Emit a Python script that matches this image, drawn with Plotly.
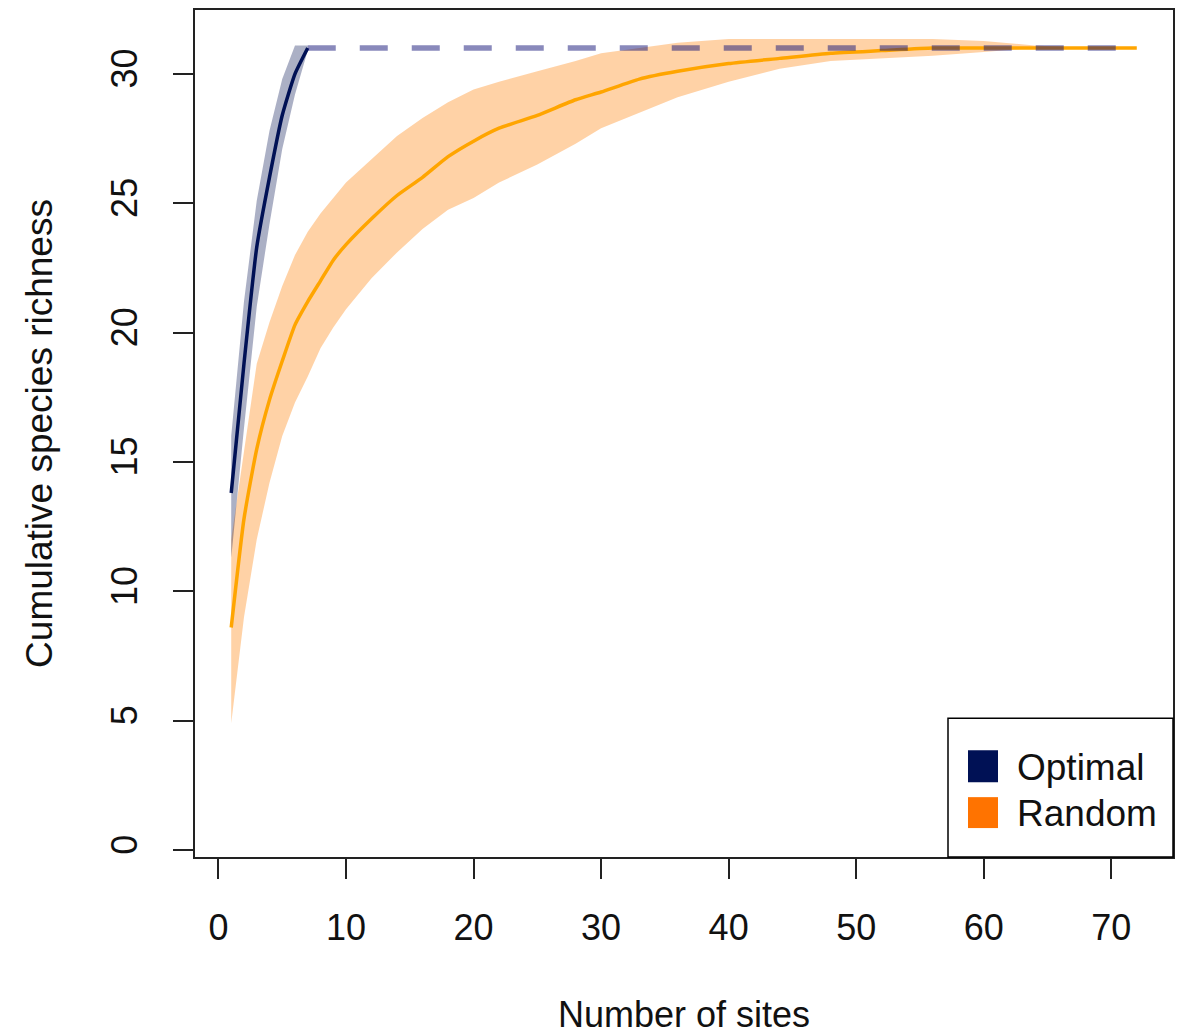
import plotly.graph_objects as go

# ---- data ----
opt_x = [1, 2, 3, 4, 5, 6, 7]
opt_mean = [13.8, 18.8, 23.3, 26.0, 28.4, 30.0, 31.0]
opt_upper = [16.0, 21.2, 25.1, 27.8, 29.8, 31.1, 31.1]
opt_lower = [11.3, 16.3, 21.0, 24.2, 27.1, 29.2, 30.9]

plateau_x = [7, 72]
plateau_y = [31.0, 31.0]

rand_x = [1, 2, 3, 4, 5, 6, 7, 8, 9, 10, 12, 14, 16, 18, 20, 22, 25, 28, 30,
          33, 36, 40, 44, 48, 52, 56, 60, 64, 68, 72]
rand_mean = [8.6, 12.8, 15.5, 17.4, 18.9, 20.3, 21.2, 22.0, 22.8, 23.4, 24.4,
             25.3, 26.0, 26.8, 27.4, 27.9, 28.4, 29.0, 29.3, 29.8, 30.1, 30.4,
             30.6, 30.8, 30.9, 31.0, 31.0, 31.0, 31.0, 31.0]
rand_upper = [12.0, 15.5, 18.8, 20.4, 21.8, 23.0, 23.9, 24.6, 25.2, 25.8, 26.7,
              27.6, 28.3, 28.9, 29.4, 29.7, 30.1, 30.5, 30.8, 31.0, 31.2, 31.35,
              31.35, 31.35, 31.35, 31.35, 31.27, 31.1, 31.0, 31.0]
rand_lower = [4.9, 9.0, 12.0, 14.2, 16.0, 17.3, 18.3, 19.4, 20.2, 20.9, 22.1,
              23.1, 24.0, 24.75, 25.2, 25.8, 26.5, 27.3, 27.9, 28.5, 29.1, 29.7,
              30.2, 30.5, 30.6, 30.7, 30.85, 31.0, 31.0, 31.0]

x_ticks = [0, 10, 20, 30, 40, 50, 60, 70]
y_ticks = [0, 5, 10, 15, 20, 25, 30]
legend_labels = ["Optimal", "Random"]

# ---- styles ----
NAVY = "#001155"
ORANGE_LINE = "#FFA500"
ORANGE_LEG = "#FF7300"
FONT = "Liberation Sans, Arial, sans-serif"
TXT = "#111111"

fig = go.Figure()

# Random band
fig.add_trace(go.Scatter(x=rand_x, y=rand_upper, mode="lines", line=dict(width=0),
                         hoverinfo="skip", showlegend=False))
fig.add_trace(go.Scatter(x=rand_x, y=rand_lower, mode="lines", line=dict(width=0),
                         fill="tonexty", fillcolor="rgba(255,127,0,0.35)",
                         hoverinfo="skip", showlegend=False))
# Optimal band
fig.add_trace(go.Scatter(x=opt_x, y=opt_upper, mode="lines", line=dict(width=0),
                         hoverinfo="skip", showlegend=False))
fig.add_trace(go.Scatter(x=opt_x, y=opt_lower, mode="lines", line=dict(width=0),
                         fill="tonexty", fillcolor="rgba(0,16,80,0.33)",
                         hoverinfo="skip", showlegend=False))
# Random mean
fig.add_trace(go.Scatter(x=rand_x, y=rand_mean, mode="lines", name="Random",
                         line=dict(color=ORANGE_LINE, width=3.5, shape="spline", smoothing=0.5),
                         showlegend=False))
# Optimal mean
fig.add_trace(go.Scatter(x=opt_x, y=opt_mean, mode="lines", name="Optimal",
                         line=dict(color=NAVY, width=3.5, shape="spline", smoothing=0.5),
                         showlegend=False))
# Plateau dashed
fig.add_trace(go.Scatter(x=plateau_x, y=plateau_y, mode="lines",
                         line=dict(color="rgba(20,20,120,0.5)", width=5.5, dash="28px,24px"),
                         hoverinfo="skip", showlegend=False))

# ---- legend (manual, R style) ----
# plot area is 849 px tall (page y 8..857), 978 px wide (page x 195..1173)
def px(xp):
    return (xp - 195) / 978.0

def py(yp):
    return (857 - yp) / 849.0

shapes = [
    dict(type="rect", xref="paper", yref="paper", x0=px(948), x1=1.0, y0=0.0, y1=py(718),
         line=dict(color="black", width=1.5), fillcolor="white", layer="above"),
    dict(type="rect", xref="paper", yref="paper", x0=px(968), x1=px(998), y0=py(782), y1=py(750),
         line=dict(width=0), fillcolor=NAVY, layer="above"),
    dict(type="rect", xref="paper", yref="paper", x0=px(968), x1=px(998), y0=py(828), y1=py(797),
         line=dict(width=0), fillcolor=ORANGE_LEG, layer="above"),
]
annotations = [
    dict(xref="paper", yref="paper", x=px(1015), y=py(767), text=legend_labels[0],
         xanchor="left", yanchor="middle", showarrow=False,
         font=dict(family=FONT, size=37, color=TXT)),
    dict(xref="paper", yref="paper", x=px(1015), y=py(813), text=legend_labels[1],
         xanchor="left", yanchor="middle", showarrow=False,
         font=dict(family=FONT, size=37, color=TXT)),
]

axis_common = dict(showgrid=False, zeroline=False, showline=True, mirror=True,
                   linecolor="#222222", linewidth=2, ticks="outside", ticklen=20,
                   tickwidth=1.5, tickcolor="#222222",
                   tickfont=dict(family=FONT, size=36, color=TXT))

# page body adds an 8px offset, so the figure is sized/margined to compensate
fig.update_layout(
    width=1179, height=1028,
    margin=dict(l=187, r=14, t=0, b=179),
    paper_bgcolor="white", plot_bgcolor="white",
    shapes=shapes, annotations=annotations,
    showlegend=False,
    xaxis=dict(range=[-1.84, 74.84], tickvals=x_ticks, ticklabelstandoff=18,
               title=dict(text="Number of sites", font=dict(family=FONT, size=36, color=TXT),
                          standoff=55),
               **axis_common),
    yaxis=dict(range=[-0.27, 32.47], tickvals=y_ticks, tickangle=-90, ticklabelstandoff=22,
               title=dict(text="Cumulative species richness",
                          font=dict(family=FONT, size=37, color=TXT), standoff=40),
               **axis_common),
)

fig.write_html("out.html")
